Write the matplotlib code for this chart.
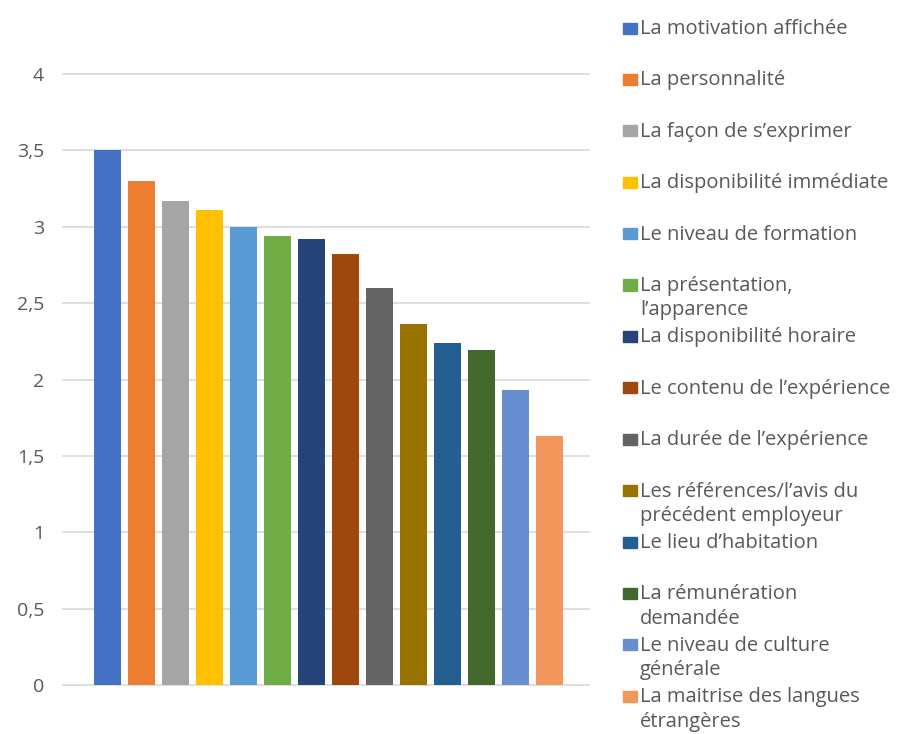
import matplotlib.pyplot as plt
from matplotlib.patches import Rectangle

categories = [
    "La motivation affichée",
    "La personnalité",
    "La façon de s\u2019exprimer",
    "La disponibilité immédiate",
    "Le niveau de formation",
    "La présentation,\nl\u2019apparence",
    "La disponibilité horaire",
    "Le contenu de l\u2019expérience",
    "La durée de l\u2019expérience",
    "Les références/l\u2019avis du\nprécédent employeur",
    "Le lieu d\u2019habitation",
    "La rémunération\ndemandée",
    "Le niveau de culture\ngénérale",
    "La maitrise des langues\nétrangères",
]
values = [3.50, 3.30, 3.17, 3.11, 3.00, 2.94, 2.92, 2.82, 2.60, 2.36, 2.24, 2.19, 1.93, 1.63]
colors = ["#4472C4", "#ED7D31", "#A5A5A5", "#FFC000", "#5B9BD5", "#70AD47", "#264478",
          "#9E480E", "#636363", "#997300", "#255E91", "#43682B", "#698ED0", "#F1975A"]
yticks = [0, 0.5, 1, 1.5, 2, 2.5, 3, 3.5, 4]
ytick_labels = ["0", "0,5", "1", "1,5", "2", "2,5", "3", "3,5", "4"]

plt.rcParams['font.family'] = ['Open Sans', 'DejaVu Sans']
TXT = "#595959"

W, H = 904, 734
fig = plt.figure(figsize=(W / 100, H / 100), dpi=100)
ax = fig.add_axes([62 / W, 1 - 686 / H, (590 - 62) / W, (686 - 73) / H])

x = range(len(values))
ax.bar(x, values, width=0.8, color=colors, zorder=3)
ax.set_xlim(-1.34, len(values) - 1 + 1.19)
ax.set_ylim(-0.005, 4.005)
ax.set_yticks(yticks)
ax.set_yticklabels(ytick_labels, fontsize=14, color=TXT)
ax.tick_params(axis='y', length=0, pad=13)
ax.set_xticks([])
ax.yaxis.grid(True, color="#D9D9D9", linewidth=1.2, zorder=0)
for s in ax.spines.values():
    s.set_visible(False)

# legend drawn by hand at the right
for i, (lab, c) in enumerate(zip(categories, colors)):
    yc = 28 + i * 51.4
    fig.patches.append(Rectangle((623 / W, 1 - (yc + 5.5) / H), 14 / W, 11 / H,
                                 transform=fig.transFigure, color=c))
    fig.text(640 / W, 1 - (yc - 9) / H, lab, fontsize=14.5, color=TXT,
             va='top', ha='left', linespacing=1.3)

fig.savefig("out.png", dpi=100)
